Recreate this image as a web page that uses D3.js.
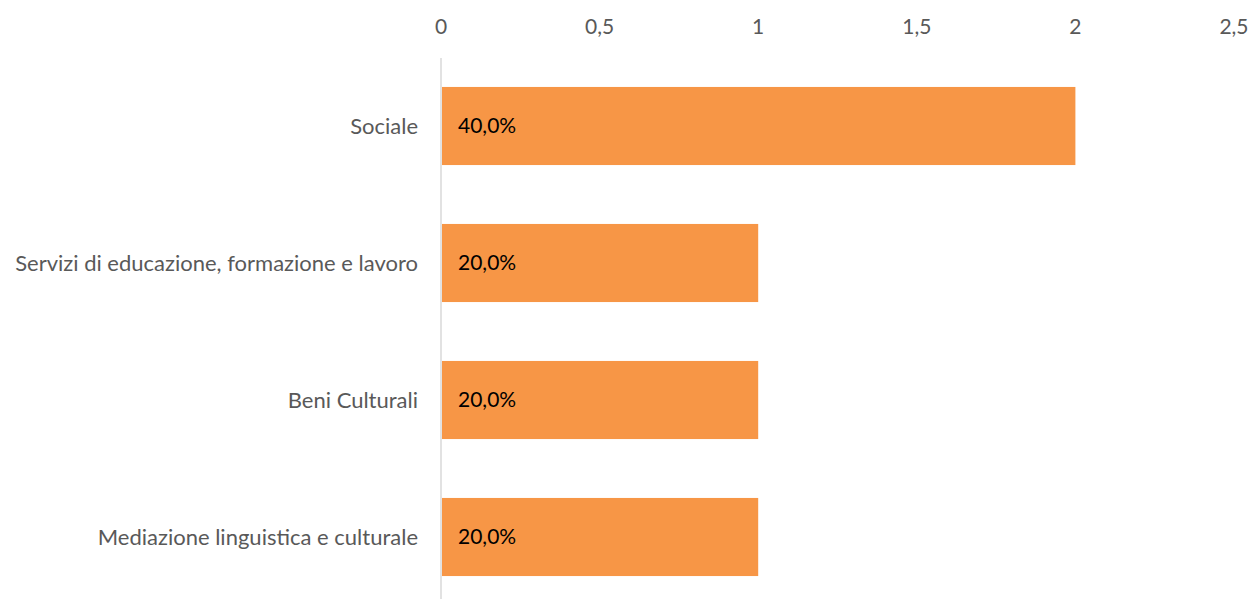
<!DOCTYPE html>
<html>
<head>
<meta charset="utf-8">
<script src="https://cdn.jsdelivr.net/npm/d3@7"></script>
<style>
  body { margin: 0; background: #fff; }
  text { font-family: Lato, "Open Sans", sans-serif; }
</style>
</head>
<body>
<svg id="chart" width="1255" height="599"></svg>
<script>
"use strict";

var categories = ["Sociale", "Servizi di educazione, formazione e lavoro", "Beni Culturali", "Mediazione linguistica e culturale"];
var values = [2, 1, 1, 1];
var shareLabels = ["40,0%", "20,0%", "20,0%", "20,0%"];
var tickValues = [0, 0.5, 1, 1.5, 2, 2.5];

var svg = d3.select("#chart");

var x = d3.scaleLinear()
    .domain([0, 2.5])
    .range([441, 1234]);

var y = d3.scaleBand()
    .domain(categories)
    .range([57.5, 605.5])
    .paddingInner(0.43)
    .paddingOuter(0.215);

var format = function(d) { return String(d).replace(".", ","); };

// top axis labels, no line
svg.append("g")
    .selectAll("text")
    .data(tickValues)
    .join("text")
    .attr("x", function(d) { return x(d); })
    .attr("y", 34)
    .attr("text-anchor", "middle")
    .attr("fill", "#595959")
    .style("font-size", "21px")
    .text(format);

// bars
svg.append("g")
    .selectAll("rect")
    .data(values)
    .join("rect")
    .attr("x", x(0) + 1)
    .attr("y", function(d, i) { return y(categories[i]); })
    .attr("width", function(d) { return x(d) - x(0) - 1; })
    .attr("height", y.bandwidth())
    .attr("fill", "#F79646");

// vertical axis line
svg.append("line")
    .attr("x1", x(0)).attr("x2", x(0))
    .attr("y1", 58).attr("y2", 599)
    .attr("stroke", "#D9D9D9")
    .attr("stroke-width", 1.5);

// category labels
svg.append("g")
    .selectAll("text")
    .data(categories)
    .join("text")
    .attr("x", 418)
    .attr("y", function(d) { return y(d) + y.bandwidth() / 2; })
    .attr("dy", "0.35em")
    .attr("text-anchor", "end")
    .attr("fill", "#595959")
    .style("font-size", "22px")
    .text(function(d) { return d; });

// value labels inside bars
svg.append("g")
    .selectAll("text")
    .data(shareLabels)
    .join("text")
    .attr("x", x(0) + 17)
    .attr("y", function(d, i) { return y(categories[i]) + y.bandwidth() / 2; })
    .attr("dy", "0.35em")
    .attr("fill", "#000")
    .style("font-size", "21px")
    .text(function(d) { return d; });
</script>
</body>
</html>
